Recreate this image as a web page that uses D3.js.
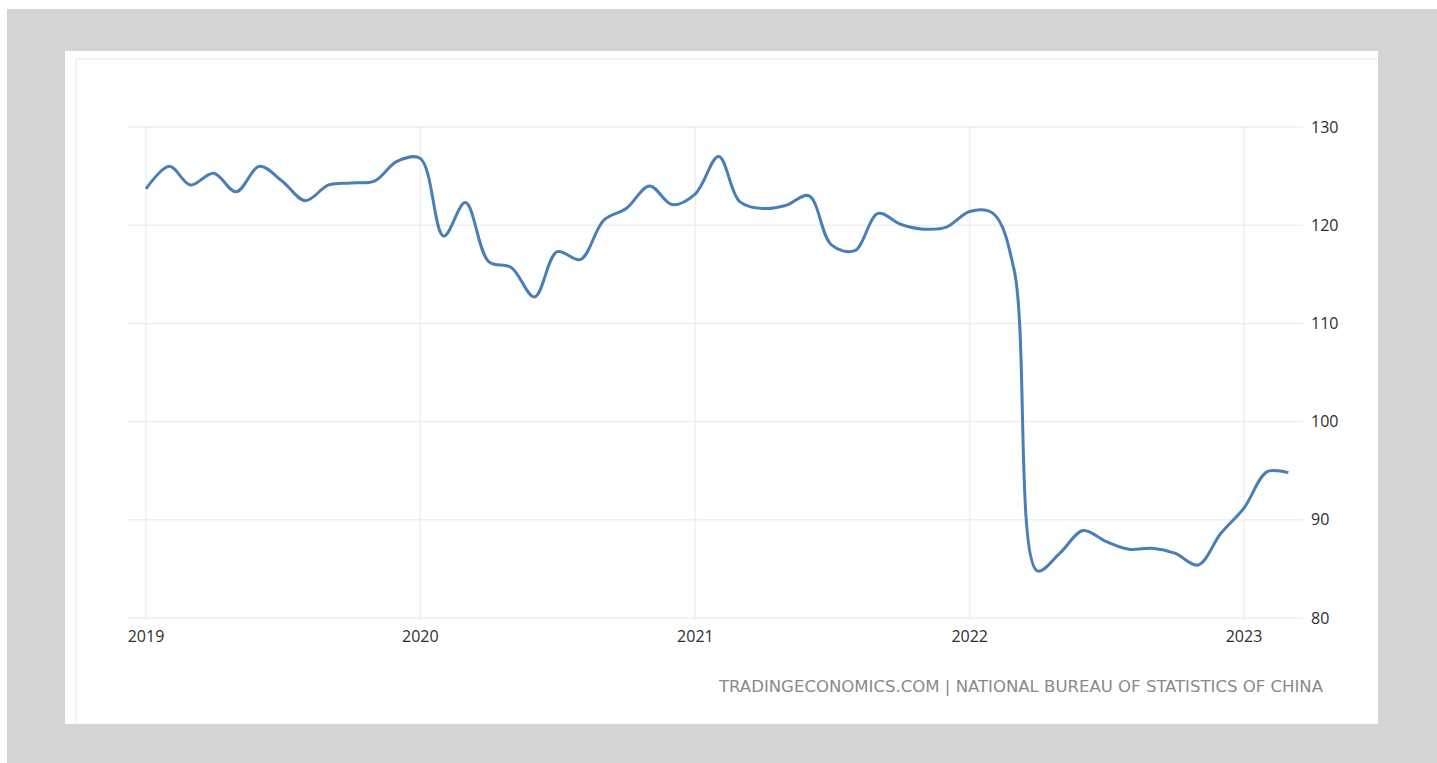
<!DOCTYPE html>
<html>
<head>
<meta charset="utf-8">
<script src="https://cdn.jsdelivr.net/npm/d3@7"></script>
<style>
  html, body { margin: 0; padding: 0; background: #fff; }
  svg { display: block; }
</style>
</head>
<body>
<div id="chart"></div>
<script>
// monthly values, Jan 2019 .. Mar 2023
var startYear = 2019;
var values = [
  123.7, 126.0, 124.1, 125.3, 123.4, 126.0, 124.5, 122.5, 124.1, 124.3, 124.5, 126.5,
  126.8, 118.9, 122.3, 116.3, 115.7, 112.7, 117.3, 116.5, 120.5, 121.7, 124.0, 122.1,
  123.2, 127.0, 122.4, 121.7, 122.0, 123.0, 118.0, 117.4, 121.2, 120.1, 119.6, 119.8,
  121.4, 121.2, 115.5, 84.8, 86.6, 88.9, 87.8, 87.0, 87.1, 86.6, 85.4, 88.6, 91.2, 94.9,
  94.8
];
var yearTicks = [2019, 2020, 2021, 2022, 2023];
var valueTicks = [80, 90, 100, 110, 120, 130];
var sourceText = "TRADINGECONOMICS.COM | NATIONAL BUREAU OF STATISTICS OF CHINA";

var data = values.map(function(v, i) {
  return { date: new Date(startYear, i, 1), value: v };
});

var W = 1437, H = 763;
var svg = d3.select("#chart").append("svg")
    .attr("width", W)
    .attr("height", H);

// grey backdrop + white card
svg.append("rect").attr("x", 7).attr("y", 9).attr("width", W - 7).attr("height", H - 9).attr("fill", "#d4d4d4");
svg.append("rect").attr("x", 65).attr("y", 51).attr("width", 1313).attr("height", 673).attr("fill", "#fff");
svg.append("path")
   .attr("d", "M76,724V59H1378")
   .attr("fill", "none")
   .attr("stroke", "#f1f1f1")
   .attr("stroke-width", 1.5);

var x = d3.scaleTime()
    .domain([new Date(2019, 0, 1), new Date(2023, 0, 1)])
    .range([146, 1244]);

var y = d3.scaleLinear()
    .domain([80, 130])
    .range([618, 127]);

var gridLeft = 127, gridRight = 1303;

// horizontal grid
svg.append("g").selectAll("line")
   .data(valueTicks).enter()
   .append("line")
   .attr("x1", gridLeft).attr("x2", gridRight)
   .attr("y1", function(d) { return y(d); })
   .attr("y2", function(d) { return y(d); })
   .attr("stroke", "#efefef")
   .attr("stroke-width", 1.5);

// vertical grid
svg.append("g").selectAll("line")
   .data(yearTicks).enter()
   .append("line")
   .attr("x1", function(d) { return x(new Date(d, 0, 1)); })
   .attr("x2", function(d) { return x(new Date(d, 0, 1)); })
   .attr("y1", y(130))
   .attr("y2", y(80) + 2)
   .attr("stroke", "#efefef")
   .attr("stroke-width", 1.5);

// y labels, right side
svg.append("g").selectAll("text")
   .data(valueTicks).enter()
   .append("text")
   .attr("x", 1311)
   .attr("y", function(d) { return y(d); })
   .attr("dy", "0.35em")
   .style("font-family", "'Open Sans', sans-serif")
   .style("font-size", "16px")
   .attr("fill", "#2e2e2e")
   .text(function(d) { return d; });

// x labels
svg.append("g").selectAll("text")
   .data(yearTicks).enter()
   .append("text")
   .attr("x", function(d) { return x(new Date(d, 0, 1)); })
   .attr("y", 636)
   .attr("dy", "0.35em")
   .attr("text-anchor", "middle")
   .style("font-family", "'Open Sans', sans-serif")
   .style("font-size", "16px")
   .attr("fill", "#2e2e2e")
   .text(function(d) { return d; });

var line = d3.line()
    .x(function(d) { return x(d.date); })
    .y(function(d) { return y(d.value); })
    .curve(d3.curveCatmullRom.alpha(0.5));

svg.append("path")
   .datum(data)
   .attr("fill", "none")
   .attr("stroke", "#4a7fb5")
   .attr("stroke-width", 3)
   .attr("stroke-linejoin", "round")
   .attr("d", line);

// source
svg.append("text")
   .attr("x", 719)
   .attr("y", 687)
   .attr("dy", "0.35em")
   .attr("textLength", 604)
   .attr("lengthAdjust", "spacingAndGlyphs")
   .style("font-family", "'DejaVu Sans Condensed', 'Liberation Sans Narrow', sans-serif")
   .style("font-size", "15px")
   .attr("fill", "#8a8a8a")
   .text(sourceText);
</script>
</body>
</html>
